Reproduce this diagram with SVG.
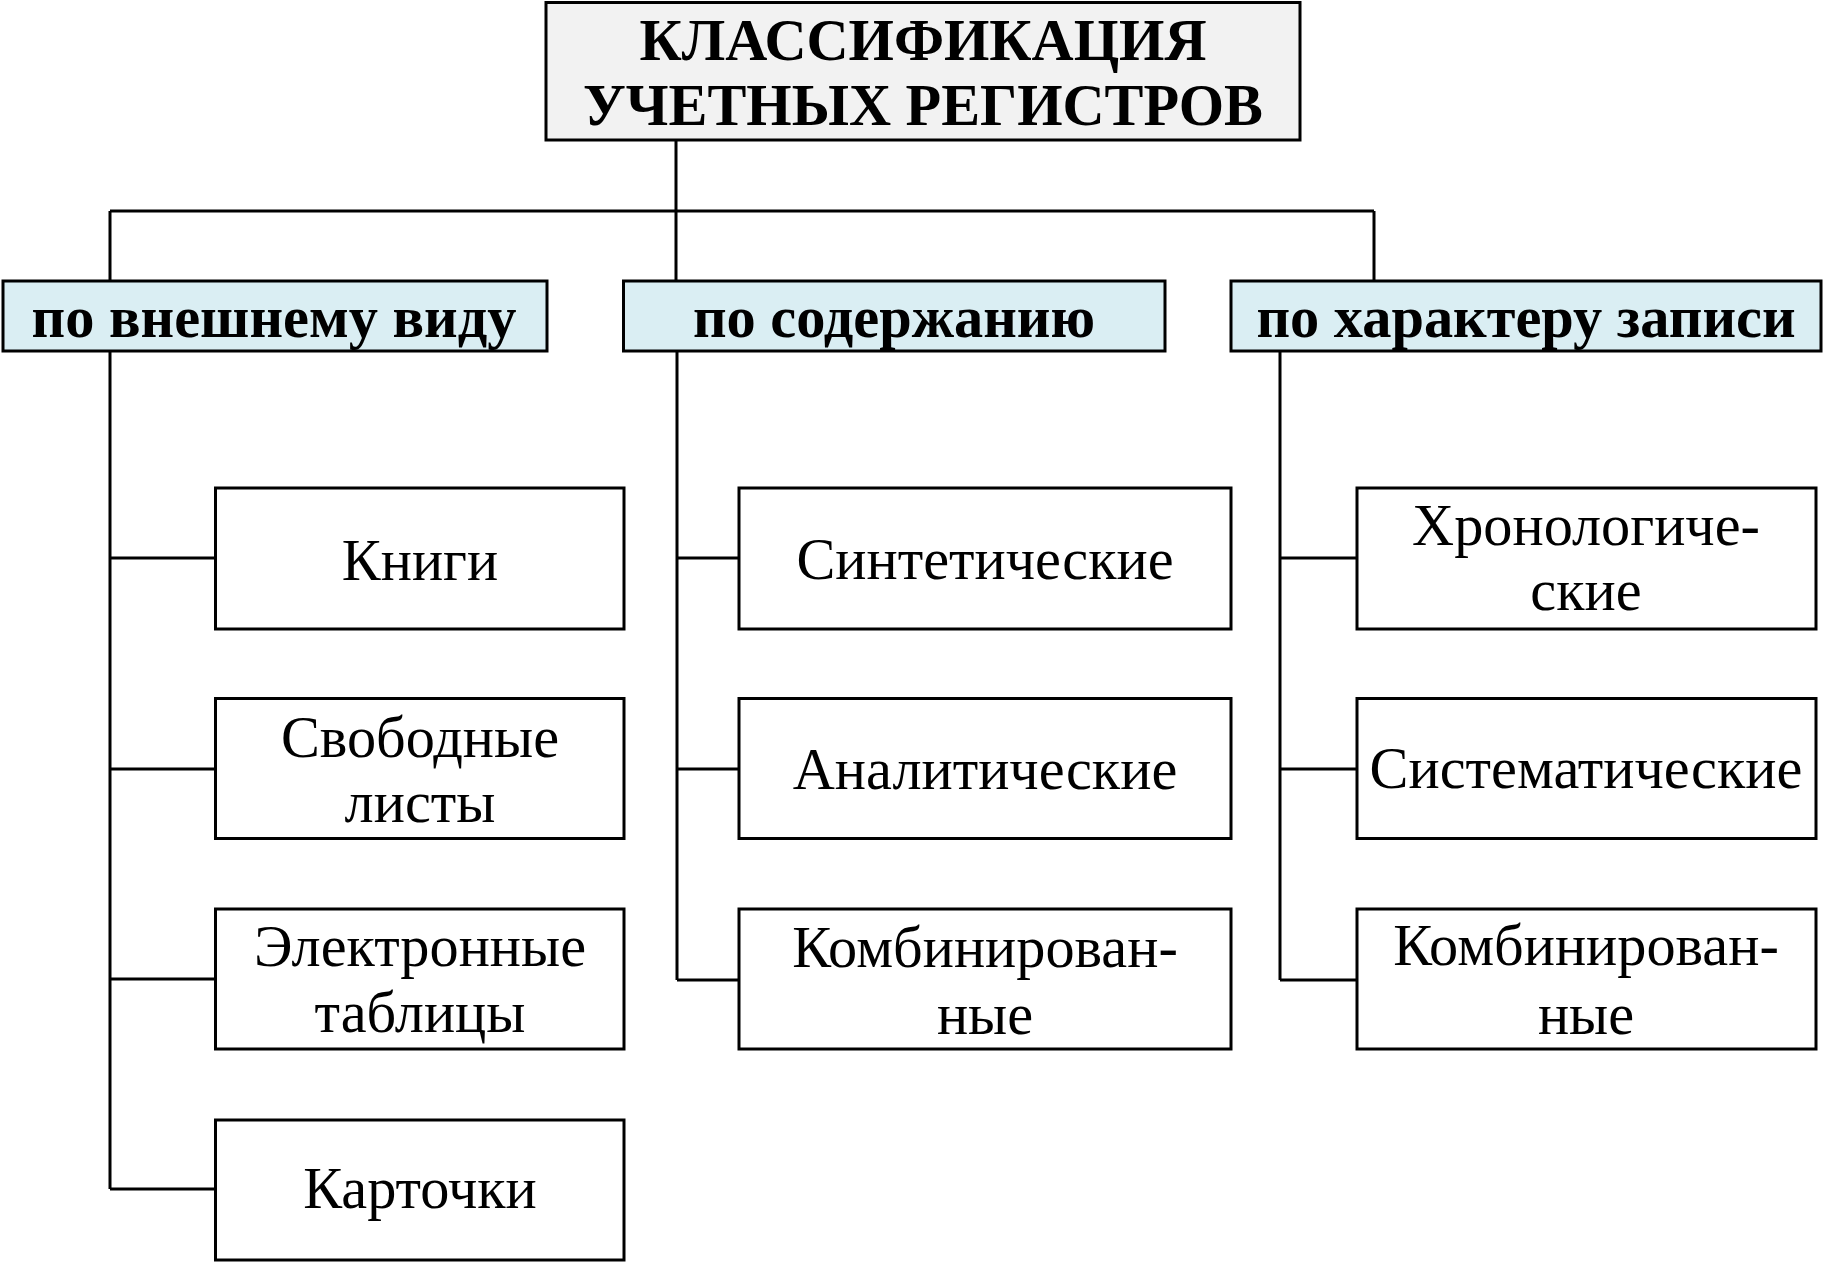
<svg xmlns="http://www.w3.org/2000/svg" width="1825" height="1262" viewBox="0 0 1825 1262">
<style>
.box{fill:#ffffff;stroke:#000;stroke-width:3}
.title{fill:#f2f2f2;stroke:#000;stroke-width:3}
.cat{fill:#daeef3;stroke:#000;stroke-width:3}
.ln{stroke:#000;stroke-width:3;fill:none}
text{font-family:"Liberation Serif","Times New Roman",serif;text-anchor:middle;fill:#000}
.t{font-size:58.3px;font-weight:bold}
.c{font-size:58.4px;font-weight:bold}
.n{font-size:58.3px}
</style>
<rect width="1825" height="1262" fill="#ffffff"/>
<g id="connectors">
<path class="ln" d="M676,140 V281 M110,211 H1374 M110,211 V281 M1374,211 V281"/>
<path class="ln" d="M110,351 V1189 M110,558 H215 M110,769 H215 M110,979 H215 M110,1189 H215"/>
<path class="ln" d="M677,351 V980 M677,558 H739 M677,769 H739 M677,980 H739"/>
<path class="ln" d="M1280,351 V980 M1280,558 H1357 M1280,769 H1357 M1280,980 H1357"/>
</g>
<g id="title">
<rect class="title" x="546" y="2.5" width="754" height="137.5"/>
<text class="t" x="923" y="60">КЛАССИФИКАЦИЯ</text>
<text class="t" x="923" y="125">УЧЕТНЫХ РЕГИСТРОВ</text>
</g>
<g id="cat1">
<rect class="cat" x="3" y="281" width="544" height="70"/>
<text class="c" x="274" y="337">по внешнему виду</text>
</g>
<g id="cat2">
<rect class="cat" x="623.5" y="281" width="541.5" height="70"/>
<text class="c" x="894" y="337">по содержанию</text>
</g>
<g id="cat3">
<rect class="cat" x="1231" y="281" width="590" height="70"/>
<text class="c" x="1526" y="337">по характеру записи</text>
</g>
<g id="knigi">
<rect class="box" x="215.5" y="488" width="408.5" height="141"/>
<text class="n" x="420" y="580">Книги</text>
</g>
<g id="svobodnye">
<rect class="box" x="215.5" y="698.5" width="408.5" height="140"/>
<text class="n" x="420" y="757">Свободные</text>
<text class="n" x="420" y="822">листы</text>
</g>
<g id="elektronnye">
<rect class="box" x="215.5" y="909" width="408.5" height="140"/>
<text class="n" x="420" y="966">Электронные</text>
<text class="n" x="420" y="1032">таблицы</text>
</g>
<g id="kartochki">
<rect class="box" x="215.5" y="1120" width="408.5" height="140"/>
<text class="n" x="420" y="1208">Карточки</text>
</g>
<g id="sinteticheskie">
<rect class="box" x="739" y="488" width="492" height="141"/>
<text class="n" x="985" y="579">Синтетические</text>
</g>
<g id="analiticheskie">
<rect class="box" x="739" y="698.5" width="492" height="140"/>
<text class="n" x="985" y="789">Аналитические</text>
</g>
<g id="kombinirovannye1">
<rect class="box" x="739" y="909" width="492" height="140"/>
<text class="n" x="985" y="967">Комбинирован-</text>
<text class="n" x="985" y="1034">ные</text>
</g>
<g id="khronologicheskie">
<rect class="box" x="1357" y="488" width="459" height="141"/>
<text class="n" x="1586" y="545">Хронологиче-</text>
<text class="n" x="1586" y="610">ские</text>
</g>
<g id="sistematicheskie">
<rect class="box" x="1357" y="698.5" width="459" height="140"/>
<text class="n" x="1586" y="788">Систематические</text>
</g>
<g id="kombinirovannye2">
<rect class="box" x="1357" y="909" width="459" height="140"/>
<text class="n" x="1586" y="965">Комбинирован-</text>
<text class="n" x="1586" y="1034">ные</text>
</g>
</svg>
